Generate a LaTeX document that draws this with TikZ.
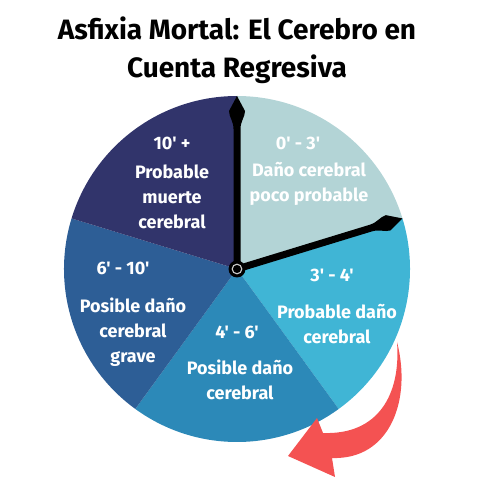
\documentclass[tikz,border=0pt]{standalone}
\usepackage{fontspec}
\setmainfont{Fira Sans}[Ligatures=TeXOff]
\usetikzlibrary{positioning}
\definecolor{navysector}{HTML}{31346B}
\definecolor{lightsector}{HTML}{B3D4D6}
\definecolor{cyansector}{HTML}{40B5D5}
\definecolor{midsector}{HTML}{2C89B8}
\definecolor{deepsector}{HTML}{2D5E96}
\definecolor{arrowred}{HTML}{F45252}
\tikzset{
  titletext/.style={font=\bfseries\fontsize{28}{30}\selectfont, text=black, anchor=base, inner sep=0pt},
  timetext/.style={font=\bfseries\fontsize{18}{25}\selectfont, text=white, inner sep=0pt},
  desctext/.style={font=\bfseries\fontsize{18}{25}\selectfont, text=white, align=center, inner sep=0pt}
}

\begin{document}
\begin{tikzpicture}[x=1pt,y=1pt]
\useasboundingbox (0,0) rectangle (480,480);
\coordinate (c) at (237,211);
\foreach \a/\b/\col in {17/90/lightsector, -54/17/cyansector, -126/-54/midsector, 163/234/deepsector, 90/163/navysector}
  \fill[\col] (c) -- ++(\a:173) arc[start angle=\a, end angle=\b, radius=173] -- cycle;

\node[titletext] (title1) at (237,440) {Asfixia Mortal: El Cerebro en};
\node[titletext] (title2) at (237,402) {Cuenta Regresiva};

\node[timetext] (t10) at (172,337) {10' +};
\node[desctext] (d10) at (172,283) {Probable\\muerte\\cerebral};
\node[timetext] (t0) at (298,337) {0' - 3'};
\node[desctext] (d0) at (309,296) {Daño cerebral\\poco probable};
\node[timetext] (t3) at (332,205) {3' - 4'};
\node[desctext] (d3) at (337,156) {Probable daño\\cerebral};
\node[timetext] (t6) at (123,212) {6' - 10'};
\node[desctext] (d6) at (133,148) {Posible daño\\cerebral\\grave};
\node[timetext] (t4) at (237,148) {4' - 6'};
\node[desctext] (d4) at (240,100) {Posible daño\\cerebral};

\foreach \ang in {90,17}{
  \begin{scope}[shift={(c)}, rotate=\ang]
    \fill[black] (0,-3.5) -- (140,-3.5) .. controls (148,-3.5) and (152,-8) .. (158,-8) -- (173,0)
      -- (158,8) .. controls (152,8) and (148,3.5) .. (140,3.5) -- (0,3.5) -- cycle;
  \end{scope}
}
\fill[black] (c) circle[radius=8.5];
\draw[white!80!black, line width=1.1pt] (c) circle[radius=4.8];

\fill[arrowred] (397,138) .. controls (401,85) and (378,45) .. (323,47) -- (317,62) -- (288,24)
  -- (335,3) -- (332,22) .. controls (390,20) and (412,80) .. (397,138) -- cycle;
\end{tikzpicture}
\end{document}
